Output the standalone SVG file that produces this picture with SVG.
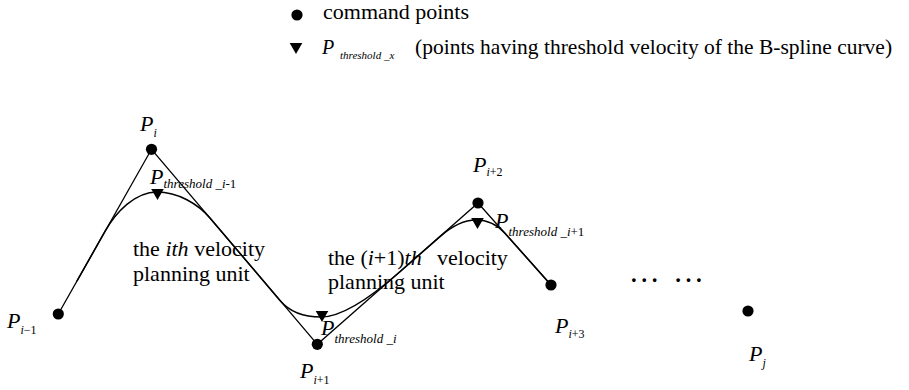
<svg xmlns="http://www.w3.org/2000/svg" width="909" height="390" viewBox="0 0 909 390">
<style>
text{font-family:"Liberation Serif","Times New Roman",serif;fill:#000}
.t{font-size:22px}
.p{font-size:22px;font-style:italic}
.s{font-size:12px}
.th{font-size:13px}
.i{font-style:italic}
.ln{fill:none;stroke:#000;stroke-width:1.3}
.cv{fill:none;stroke:#000;stroke-width:1.5}
.dots{font-size:31px}
</style>
<defs>
<circle id="dot" r="5.6" fill="#000"/>
<path id="tri" d="M-6.3,0 L6.3,0 L0,11 Z" fill="#000"/>
</defs>
<rect width="909" height="390" fill="#fff"/>

<g id="legend">
<use href="#dot" x="297" y="15"/>
<text class="t" x="323" y="19">command points</text>
<use href="#tri" x="296" y="43"/>
<text x="322" y="54"><tspan class="i" font-size="20">P</tspan><tspan class="i" font-size="11" x="340" y="59">threshold _x</tspan></text>
<text x="415" y="54" font-size="21.5">(points having threshold velocity of the B-spline curve)</text>
</g>

<g id="connectors">
<path class="ln" d="M58.3,314 L151.5,149.3 L317.3,344.3 L478,203 L551,285"/>
<path class="cv" d="M76.9,281.1 L105,231.4 C116,212 135,192 157,192 C178,192 198,204 210,218 L280,300.4 C288,309.8 302,317 321,317 C345,317 380,289.3 400,271.7 L440,236.6 C450,227.8 462,220 476,220 C488,220 497,224.3 505,233.3 L551,285"/>
</g>

<g id="P_i-1">
<use href="#dot" x="58.3" y="314"/>
<text x="7" y="328"><tspan class="p">P</tspan><tspan class="s" x="20.5" y="334"><tspan class="i">i</tspan>−1</tspan></text>
</g>
<g id="P_i">
<use href="#dot" x="151.5" y="149.3"/>
<text x="140" y="131"><tspan class="p">P</tspan><tspan class="s i" x="153.5" y="137">i</tspan></text>
</g>
<g id="P_i+1">
<use href="#dot" x="317.3" y="344.3"/>
<text x="300" y="378"><tspan class="p">P</tspan><tspan class="s" x="313.5" y="384"><tspan class="i">i</tspan>+1</tspan></text>
</g>
<g id="P_i+2">
<use href="#dot" x="478" y="203"/>
<text x="473" y="171.5"><tspan class="p">P</tspan><tspan class="s" x="486.5" y="176"><tspan class="i">i</tspan>+2</tspan></text>
</g>
<g id="P_i+3">
<use href="#dot" x="551" y="285"/>
<text x="555" y="333"><tspan class="p">P</tspan><tspan class="s" x="568.5" y="338"><tspan class="i">i</tspan>+3</tspan></text>
</g>
<g id="P_j">
<use href="#dot" x="748" y="311"/>
<text x="749" y="361"><tspan class="p">P</tspan><tspan class="s i" x="762.5" y="367">j</tspan></text>
</g>

<g id="T_i-1">
<use href="#tri" x="157.5" y="189"/>
<text x="150" y="184"><tspan class="p">P</tspan><tspan class="th" x="163.5" y="188"><tspan class="i">threshold _i</tspan>-1</tspan></text>
</g>
<g id="T_i">
<use href="#tri" x="322" y="311"/>
<text x="321" y="335"><tspan class="p">P</tspan><tspan class="th i" x="334.5" y="343">threshold _i</tspan></text>
</g>
<g id="T_i+1">
<use href="#tri" x="477.5" y="218"/>
<text x="495" y="228"><tspan class="p">P</tspan><tspan class="th" x="508.5" y="236"><tspan class="i">threshold _i</tspan>+1</tspan></text>
</g>

<g id="unit_i">
<text class="t" x="133" y="256">the <tspan class="i">ith</tspan> velocity</text>
<text class="t" x="133" y="280.5">planning unit</text>
</g>
<g id="unit_i+1">
<text class="t" x="328" y="265">the (<tspan class="i">i</tspan>+1)<tspan class="i">th</tspan></text>
<text class="t" x="437" y="265">velocity</text>
<text class="t" x="328" y="289">planning unit</text>
</g>

<g id="ellipsis">
<text class="dots" x="628.8" y="282">…</text>
<text class="dots" x="673.1" y="282">…</text>
</g>
</svg>
